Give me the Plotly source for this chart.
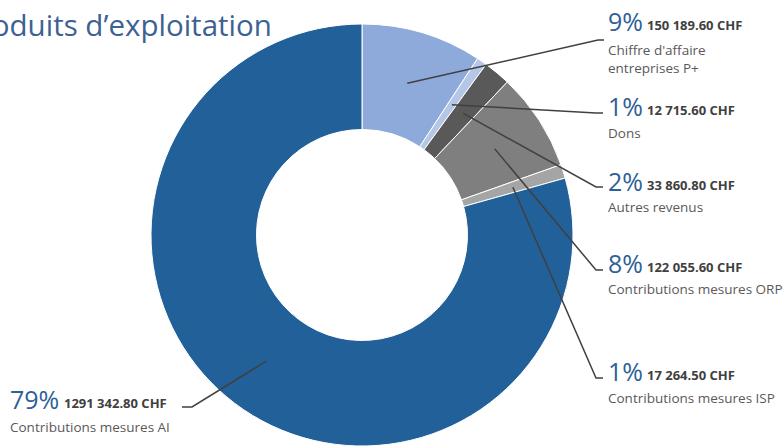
import math
import plotly.graph_objects as go

# ---- data ----
categories = ["Chiffre d'affaire<br>entreprises P+", "Dons", "Autres revenus",
              "Contributions mesures ORP", "Contributions mesures ISP",
              "Contributions mesures AI"]
values = [150189.60, 12715.60, 33860.80, 122055.60, 17264.50, 1291342.80]
pct_labels = ["9%", "1%", "2%", "8%", "1%", "79%"]
value_labels = ["150 189.60 CHF", "12 715.60 CHF", "33 860.80 CHF",
                "122 055.60 CHF", "17 264.50 CHF", "1291 342.80 CHF"]
colors = ["#8eaadb", "#b4c7e7", "#595959", "#7f7f7f", "#a5a5a5", "#22609a"]

W, H = 784, 446
CX, CY, R = 362, 235, 211
HOLE = 0.5

def px(x):
    return x / W

def py(y):
    return 1 - y / H

fig = go.Figure(go.Pie(
    labels=categories, values=values, sort=False, direction="clockwise",
    rotation=0, hole=HOLE, textinfo="none", hoverinfo="label+value+percent",
    marker=dict(colors=colors, line=dict(color="white", width=1)),
    domain=dict(x=[px(CX - R), px(CX + R)], y=[0, py(CY - R)]),
))

# label block layout: (x of percent, y center of percent line, y of category line(s),
#                      elbow x, end x, end y)
blocks = [
    (606, 21, 59, 598, 604, 40),
    (606, 106, 133, 596, 603, 113),
    (606, 181, 207, 596, 603, 187),
    (606, 263, 289, 596, 603, 270),
    (606, 371, 398, 596, 603, 378),
    (8, 399, 427, 192, 182, 407),
]
pct_w = {"9%": 39, "1%": 39, "2%": 39, "8%": 39, "79%": 54}

total = sum(values)
annotations = []
shapes = []
cum = 0.0
for i, v in enumerate(values):
    mid = (cum + v / 2) / total * 2 * math.pi
    cum += v
    r = R * (1 + HOLE) / 2
    sx = CX + r * math.sin(mid)
    sy = CY - r * math.cos(mid)
    xp, yp, yc, ex, ex2, ey = blocks[i]
    shapes.append(dict(
        type="path", xref="paper", yref="paper",
        path=f"M {px(sx):.5f} {py(sy):.5f} L {px(ex):.5f} {py(ey):.5f} L {px(ex2):.5f} {py(ey):.5f}",
        line=dict(color="#404040", width=1.5)))
    annotations.append(dict(
        x=px(xp), y=py(yp), xref="paper", yref="paper", xanchor="left", yanchor="middle",
        text=pct_labels[i], showarrow=False,
        font=dict(family="Open Sans", size=25, color="#2f5f98")))
    annotations.append(dict(
        x=px(xp + pct_w[pct_labels[i]]), y=py(yp + 4), xref="paper", yref="paper",
        xanchor="left", yanchor="middle", text="<b>" + value_labels[i] + "</b>",
        showarrow=False, font=dict(family="Open Sans", size=13, color="#404040")))
    annotations.append(dict(
        x=px(xp), y=py(yc), xref="paper", yref="paper", xanchor="left",
        yanchor="middle", text=categories[i], showarrow=False, align="left",
        font=dict(family="Open Sans", size=13.5, color="#595959")))

annotations.append(dict(
    x=px(274), y=py(24), xref="paper", yref="paper", xanchor="right", yanchor="middle",
    text="Produits d’exploitation", showarrow=False,
    font=dict(family="Open Sans", size=29.5, color="#3d6193")))

fig.update_layout(
    width=W, height=H, margin=dict(l=0, r=0, t=0, b=0),
    paper_bgcolor="white", plot_bgcolor="white", showlegend=False,
    annotations=annotations, shapes=shapes)

fig.write_html("out.html", config={"displayModeBar": False},
               post_script="document.body.style.margin='0';document.body.style.overflow='hidden';")
